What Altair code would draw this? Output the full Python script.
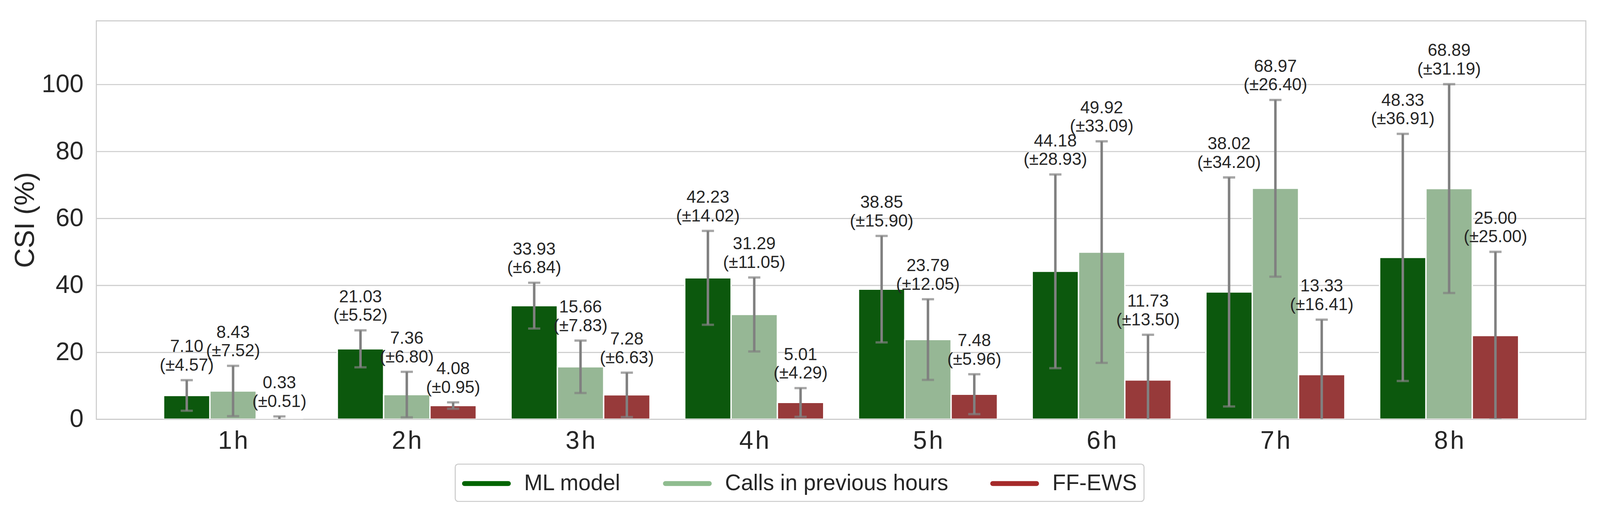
import altair as alt
import pandas as pd

# ---- data ----
hours = ["1h", "2h", "3h", "4h", "5h", "6h", "7h", "8h"]
series = ["ML model", "Calls in previous hours", "FF-EWS"]

ml_vals = [7.10, 21.03, 33.93, 42.23, 38.85, 44.18, 38.02, 48.33]
ml_sd = [4.57, 5.52, 6.84, 14.02, 15.90, 28.93, 34.20, 36.91]
calls_vals = [8.43, 7.36, 15.66, 31.29, 23.79, 49.92, 68.97, 68.89]
calls_sd = [7.52, 6.80, 7.83, 11.05, 12.05, 33.09, 26.40, 31.19]
ff_vals = [0.33, 4.08, 7.28, 5.01, 7.48, 11.73, 13.33, 25.00]
ff_sd = [0.51, 0.95, 6.63, 4.29, 5.96, 13.50, 16.41, 25.00]

legend_colors = ["#006400", "#8fbc8f", "#a52a2a"]
bar_colors = ["#0c580d", "#96b795", "#973a3a"]

FONT = "Liberation Sans, Arial, sans-serif"
TXT = "#262626"
GRID = "#cccccc"

rows = []
for name, vals, sds in zip(series, [ml_vals, calls_vals, ff_vals], [ml_sd, calls_sd, ff_sd]):
    for h, v, s in zip(hours, vals, sds):
        rows.append({
            "hour": h, "series": name, "value": v, "sd": s,
            "lo": v - s, "hi": v + s,
            "label1": f"{v:.2f}", "label2": f"(\u00b1{s:.2f})",
        })
df = pd.DataFrame(rows)

x = alt.X(
    "hour:N", sort=hours,
    scale=alt.Scale(paddingInner=0, paddingOuter=0.287),
    axis=alt.Axis(
        title=None, labelAngle=0, labelFontSize=66, labelFont=FONT, labelColor=TXT,
        labelPadding=25, ticks=False, tickSize=0, domain=True, domainColor=GRID,
        domainWidth=2.7, grid=False, zindex=1,
        labelExpr="replace(datum.label, 'h', '\u200ah')",
    ),
)
xo = alt.XOffset("series:N", sort=series, scale=alt.Scale(paddingInner=0, paddingOuter=0.375))
yscale = alt.Scale(domain=[0, 119], nice=False, zero=True)
yaxis = alt.Axis(
    values=[0, 20, 40, 60, 80, 100], title="CSI (%)", titleFontSize=72, titleFont=FONT,
    titleColor=TXT, titleFontWeight="normal", titleX=-186, titleY=523, titleAngle=270,
    titleAlign="center", titleBaseline="middle", labelFontSize=66, labelFont=FONT,
    labelColor=TXT, labelPadding=34, ticks=False, tickSize=0, domain=False,
    grid=True, gridColor=GRID, gridWidth=2.7,
)

base = alt.Chart(df)

# invisible layer that only carries the legend (full-strength colours)
# rounded line symbol, wider than the nominal symbol box so rows stay label-high
sym_path = ("M-1.745,-0.194 L1.745,-0.194 A0.194,0.194 0 0 1 1.745,0.194 "
            "L-1.745,0.194 A0.194,0.194 0 0 1 -1.745,-0.194 Z")
legend_layer = base.mark_bar(opacity=0).encode(
    x=x, xOffset=xo,
    y=alt.Y("value:Q", scale=yscale, axis=yaxis),
    fill=alt.Fill(
        "series:N", sort=series,
        scale=alt.Scale(domain=series, range=legend_colors),
        legend=alt.Legend(
            title=None, orient="none", legendX=943, legendY=1165, direction="horizontal",
            columns=3, symbolType=sym_path, symbolSize=4356, symbolStrokeWidth=0,
            symbolOffset=31, symbolOpacity=1, labelFontSize=58, labelFont=FONT,
            labelColor=TXT, labelOffset=66, labelLimit=2000, columnPadding=110,
            padding=18, strokeColor=GRID, cornerRadius=8, fillColor="white",
        ),
    ),
)

bars = base.mark_bar(stroke="white", strokeWidth=3.5).encode(
    x=x, xOffset=xo,
    y=alt.Y("value:Q", scale=yscale, axis=yaxis),
    color=alt.Color("series:N", sort=series,
                    scale=alt.Scale(domain=series, range=bar_colors), legend=None),
)

err = base.mark_rule(color="#808080", strokeWidth=6.5, clip=True).encode(
    x=x, xOffset=xo, y=alt.Y("lo:Q", scale=yscale), y2="hi:Q"
)
cap_hi = base.mark_tick(color="#808080", thickness=6, size=32, clip=True, orient="horizontal").encode(
    x=x, xOffset=xo, y=alt.Y("hi:Q", scale=yscale)
)
cap_lo = base.mark_tick(color="#808080", thickness=6, size=32, clip=True, orient="horizontal").encode(
    x=x, xOffset=xo, y=alt.Y("lo:Q", scale=yscale)
)

text1 = base.mark_text(fontSize=45, font=FONT, color=TXT, baseline="alphabetic",
                       align="center", dy=-74).encode(
    x=x, xOffset=xo, y=alt.Y("hi:Q", scale=yscale), text="label1:N"
)
text2 = base.mark_text(fontSize=45, font=FONT, color=TXT, baseline="alphabetic",
                       align="center", dy=-25).encode(
    x=x, xOffset=xo, y=alt.Y("hi:Q", scale=yscale), text="label2:N"
)

chart = alt.layer(legend_layer, bars, err, cap_hi, cap_lo, text1, text2).properties(
    width=3914, height=1047,
    autosize=alt.AutoSizeParams(type="none"),
    padding={"left": 245, "top": 29, "right": 29, "bottom": 247},
    background="white",
).configure_view(stroke=GRID, strokeWidth=2.7).configure_legend(strokeWidth=2.7)

chart.save("out.html", embed_options={"renderer": "svg", "actions": False})
